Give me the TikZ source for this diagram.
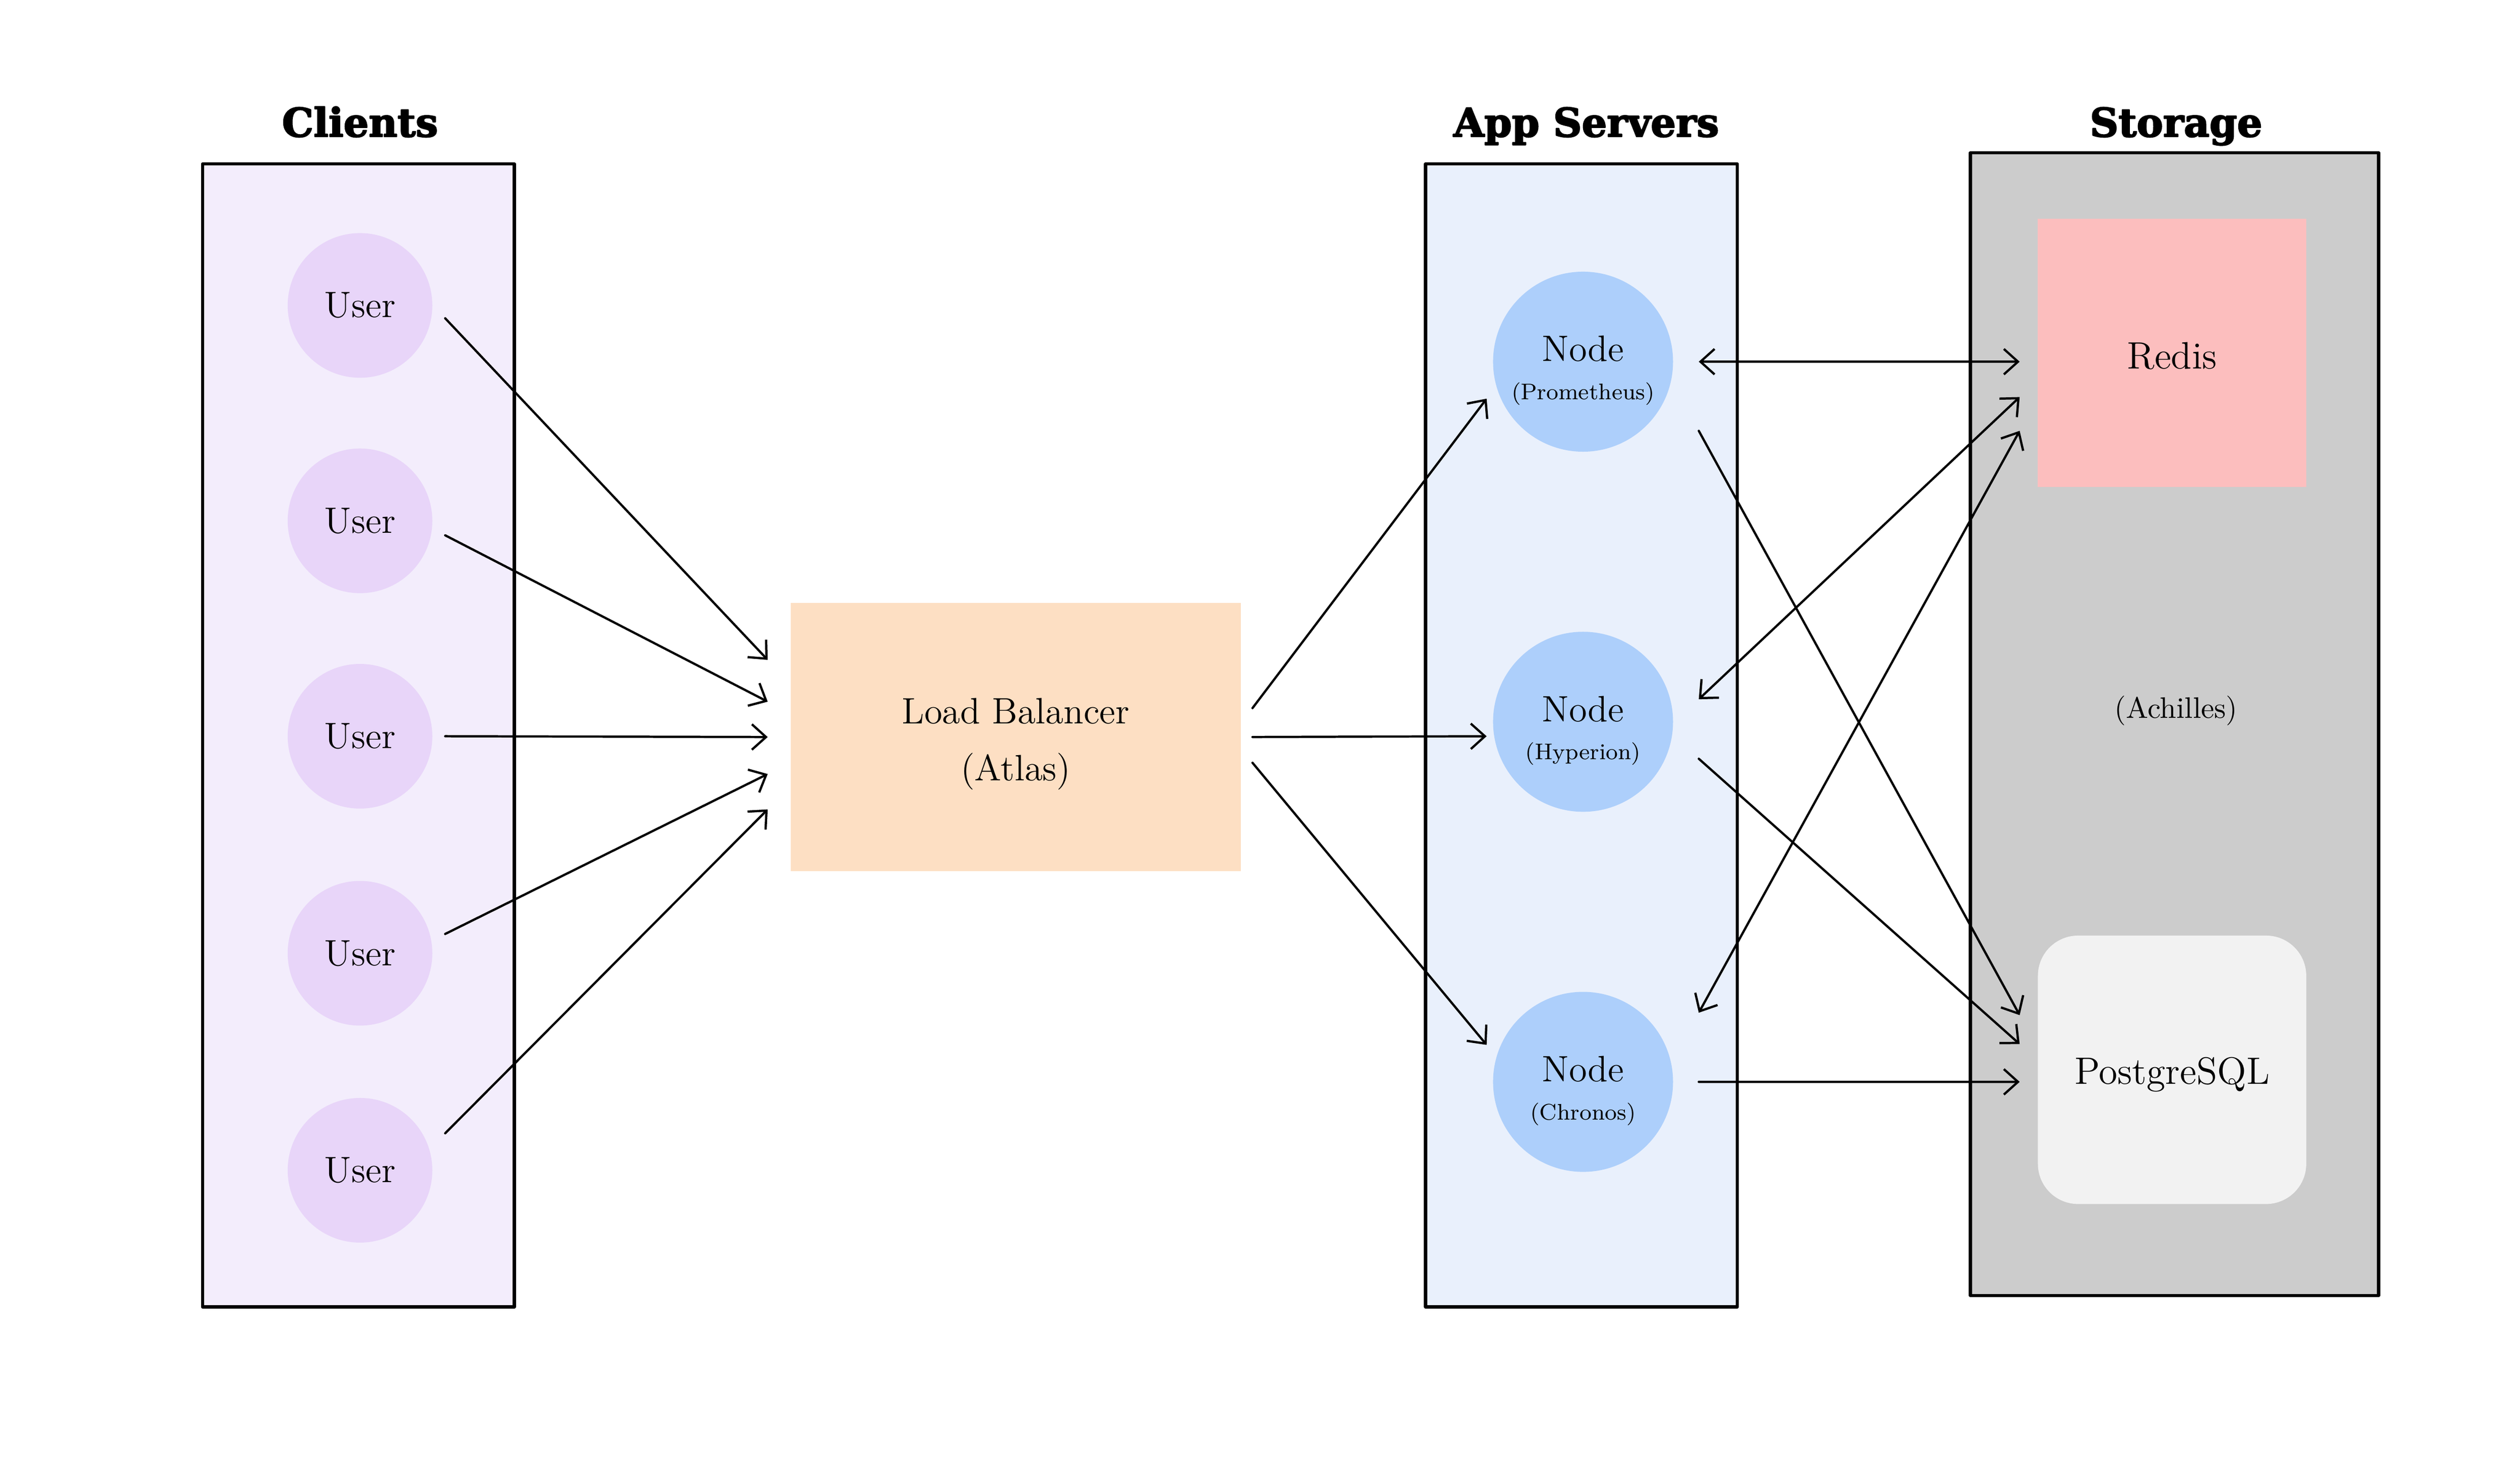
\documentclass[tikz,border=0pt]{standalone}
\usepackage{fontspec}
\newfontfamily\headfont{DejaVu Serif}[BoldFeatures={FakeBold=3}]
\usetikzlibrary{arrows.meta,calc}
\definecolor{clientbg}{HTML}{F3EDFC}
\definecolor{userfill}{HTML}{E8D5F9}
\definecolor{lbfill}{HTML}{FDDFC3}
\definecolor{appbg}{HTML}{E9F0FC}
\definecolor{nodefill}{HTML}{ADCFFB}
\definecolor{storebg}{HTML}{CCCCCC}
\definecolor{redisfill}{HTML}{FCBEBE}
\definecolor{pgfill}{HTML}{F2F2F2}
\tikzset{
  tip/.tip={Straight Barb[length=5pt,width=9pt]},
  flow/.style={-tip, line width=0.8pt},
  both/.style={tip-tip, line width=0.8pt},
  panel/.style={draw, line width=1.1pt},
  head/.style={anchor=base, font=\headfont\bfseries\fontsize{14}{16}\selectfont},
  txt/.style={inner sep=0pt, font=\fontsize{13}{15}\selectfont},
  subtxt/.style={inner sep=0pt, font=\fontsize{8}{9}\selectfont},
  user/.style={circle, fill=userfill, minimum size=1.8cm, inner sep=0pt, font=\fontsize{13}{15}\selectfont},
  srv/.style={circle, fill=nodefill, minimum size=2.24cm, inner sep=0pt},
  db/.style={minimum width=3.34cm, minimum height=3.34cm, inner sep=0pt}
}
\begin{document}
\begin{tikzpicture}[x=0.02cm, y=-0.02cm, line join=round, line cap=round]
\useasboundingbox (0,0) rectangle (1568,915.7);
% columns
\draw[panel, fill=clientbg] (126,102) rectangle (320,813);
\draw[panel, fill=appbg] (887,102) rectangle (1081,813);
\draw[panel, fill=storebg] (1226,95) rectangle (1480,806);
\node[head] (clientshead) at (224,85) {Clients};
\node[head] (apphead) at (987,85) {App Servers};
\node[head] (storehead) at (1354,85) {Storage};
% clients
\foreach \i/\y in {1/190,2/324,3/458,4/593,5/728}
  \node[user] (u\i) at (224,\y) {User};
\node[fill=lbfill, minimum width=5.6cm, minimum height=3.34cm] (lb) at (632,458.5) {};
\node[txt] (lbt) at ($(lb)+(0,-16)$) {Load Balancer};
\node[txt] (lbs) at ($(lb)+(0,21.5)$) {(Atlas)};
% app servers
\foreach \i/\y/\s in {1/225/Prometheus,2/449/Hyperion,3/673/Chronos}{
  \node[srv] (n\i) at (985,\y) {};
  \node[txt] (n\i t) at ($(n\i)+(0,-8)$) {Node};
  \node[subtxt] (n\i s) at ($(n\i)+(0,20)$) {(\s)};
}
% storage
\node[db, fill=redisfill] (redis) at (1351.5,219.5) {};
\node[txt, font=\fontsize{13.5}{16}\selectfont] (redist) at ($(redis)+(0,2)$) {Redis};
\node[font=\fontsize{10.5}{12}\selectfont] (achilles) at (1354,442) {(Achilles)};
\node[db, fill=pgfill, rounded corners=0.5cm] (pg) at (1351.5,665.5) {};
\node[txt, font=\fontsize{13.5}{16}\selectfont] (pgt) at ($(pg)+(0,3)$) {PostgreSQL};
% connectors
\foreach \i/\a/\b in {1/8/-48,2/9/-22,3/0/0,4/-12/23,5/-23/45}
  \draw[flow] ($(u\i)+(53,\a)$) -- ($(lb.west)+(-14,\b)$);
\draw[flow] ($(lb.east)+(7,-18)$) -- ($(n1)+(-60,23)$);
\draw[flow] ($(lb.east)+(7,0)$) -- ($(n2)+(-60,9)$);
\draw[flow] ($(lb.east)+(7,16)$) -- ($(n3)+(-60,-23)$);
\draw[both] ($(n1)+(72,0)$) -- ($(redis.west)+(-11,5.5)$);
\draw[both] ($(n2)+(72,-14)$) -- ($(redis.west)+(-11,27.5)$);
\draw[both] ($(n3)+(72,-43)$) -- ($(redis.west)+(-11,48.5)$);
\draw[flow] ($(n1)+(72,43)$) -- ($(pg.west)+(-11,-34)$);
\draw[flow] ($(n2)+(72,23)$) -- ($(pg.west)+(-11,-16)$);
\draw[flow] ($(n3)+(72,0)$) -- ($(pg.west)+(-11,7.5)$);
\end{tikzpicture}
\end{document}
